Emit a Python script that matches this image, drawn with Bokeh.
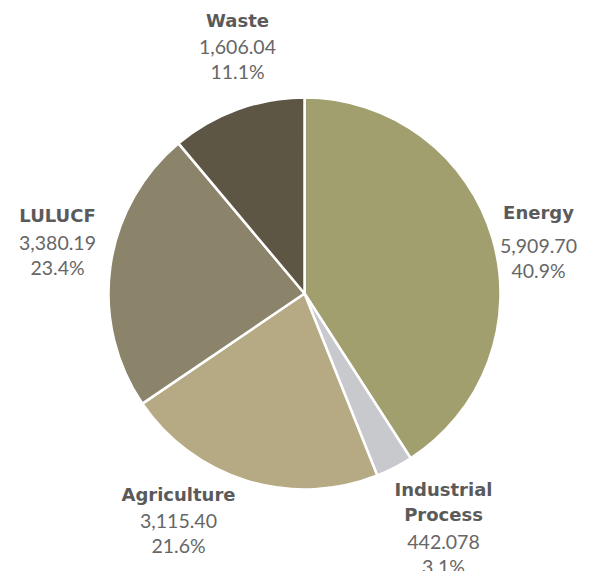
import math
from bokeh.plotting import figure
from bokeh.models import Range1d, ColumnDataSource
from bokeh.core.properties import value
from bokeh.embed import file_html
from bokeh.resources import INLINE

categories = ["Energy", "Industrial\nProcess", "Agriculture", "LULUCF", "Waste"]
values = [5909.70, 442.078, 3115.40, 3380.19, 1606.04]
value_labels = ["5,909.70", "442.078", "3,115.40", "3,380.19", "1,606.04"]
colors = ["#A19F6E", "#C8C9CD", "#B6AA84", "#8B846A", "#5D5645"]

W, H = 591, 571
p = figure(width=W, height=H, output_backend="svg", toolbar_location=None,
           x_range=Range1d(0, W), y_range=Range1d(0, H), min_border=0)
p.axis.visible = False
p.grid.visible = False
p.outline_line_color = None

def py(page_y):
    return H - page_y

def px(page_x):
    return page_x

cx, cy, r = px(304), py(293), 196
total = sum(values)
starts, ends, pcts = [], [], []
cum = 0.0
for v in values:
    starts.append(math.pi / 2 - 2 * math.pi * cum / total)
    cum += v
    ends.append(math.pi / 2 - 2 * math.pi * cum / total)
    pcts.append(f"{100 * v / total:.1f}%")

src = ColumnDataSource(dict(start=starts, end=ends, color=colors))
p.wedge(x=cx, y=cy, radius=r, start_angle="start", end_angle="end",
        direction="clock", fill_color="color", line_color="white",
        line_width=2.5, source=src)

# label anchor positions (page coords): name lines, then value, then percent
label_pos = [
    (538, [212], 245, 270),
    (443, [489, 514], 541, 566),
    (178, [494], 520, 545),
    (57, [215], 242, 267),
    (237, [20], 46, 71),
]
for (x, name_ys, vy, pcy), name, vl, pc in zip(label_pos, categories, value_labels, pcts):
    for line, ny in zip(name.split("\n"), name_ys):
        p.text(x=[px(x)], y=[py(ny)], text=[line], text_font=value("DejaVu Sans"),
               text_font_style="bold", text_font_size="18px",
               text_color="#5A5A5A", text_align="center", text_baseline="middle")
    p.text(x=[px(x)], y=[py(vy)], text=[vl], text_font=value("Lato"),
           text_font_size="19.5px", text_color="#666666",
           text_align="center", text_baseline="middle")
    p.text(x=[px(x)], y=[py(pcy)], text=[pc], text_font=value("Lato"),
           text_font_size="19.5px", text_color="#666666",
           text_align="center", text_baseline="middle")

open("out.html", "w").write(file_html(p, INLINE))
